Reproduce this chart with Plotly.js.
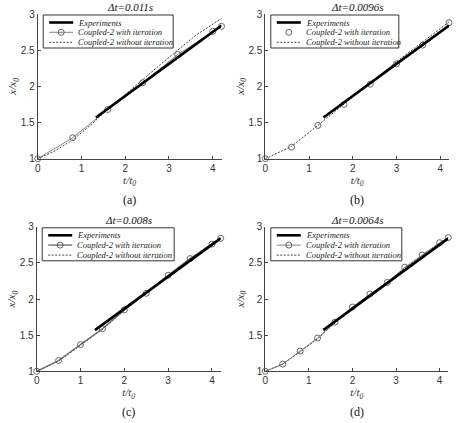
<!DOCTYPE html>
<html>
<head>
<meta charset="utf-8">
<script src="https://cdn.plot.ly/plotly-3.0.1.min.js"></script>
<style>html,body{margin:0;padding:0;background:#fff}#chart{width:456px;height:423px}</style>
</head>
<body>
<div id="chart"></div>
<script>
// Experiments (same in every panel)
const expT = [1.33, 2.0, 3.0, 4.2];
const expY = [1.57, 1.87, 2.31, 2.84];

// (a) dt = 0.011 s
const aWithT = [0, 0.8, 1.6, 2.4, 3.2, 4.0, 4.2];
const aWithY = [1.0, 1.29, 1.68, 2.05, 2.44, 2.76, 2.83];
const aWithoutT = [0, 0.4, 0.8, 1.2, 1.6, 2.0, 2.4, 2.8, 3.2, 3.6, 4.2];
const aWithoutY = [1.0, 1.11, 1.26, 1.46, 1.68, 1.89, 2.10, 2.30, 2.50, 2.70, 2.94];

// (b) dt = 0.0096 s
const bWithT = [0, 0.6, 1.2, 1.8, 2.4, 3.0, 3.6, 4.2];
const bWithY = [1.0, 1.16, 1.46, 1.75, 2.03, 2.31, 2.57, 2.88];
const bWithoutT = [0, 0.6, 1.2, 1.8, 2.4, 3.0, 3.6, 4.2];
const bWithoutY = [1.0, 1.17, 1.46, 1.76, 2.05, 2.34, 2.62, 2.89];

// (c) dt = 0.008 s
const cWithT = [0, 0.5, 1.0, 1.5, 2.0, 2.5, 3.0, 3.5, 4.0, 4.2];
const cWithY = [1.0, 1.15, 1.37, 1.59, 1.85, 2.08, 2.33, 2.56, 2.76, 2.84];
const cWithoutT = [0, 0.5, 1.0, 1.5, 2.0, 2.5, 3.0, 3.5, 4.0, 4.2];
const cWithoutY = [1.0, 1.14, 1.36, 1.58, 1.84, 2.08, 2.33, 2.56, 2.77, 2.85];

// (d) dt = 0.0064 s
const dWithT = [0, 0.4, 0.8, 1.2, 1.6, 2.0, 2.4, 2.8, 3.2, 3.6, 4.0, 4.2];
const dWithY = [1.0, 1.10, 1.28, 1.46, 1.68, 1.89, 2.07, 2.23, 2.44, 2.61, 2.78, 2.85];
const dWithoutT = [0, 0.4, 0.8, 1.2, 1.6, 2.0, 2.4, 2.8, 3.2, 3.6, 4.0, 4.2];
const dWithoutY = [1.0, 1.10, 1.27, 1.45, 1.67, 1.88, 2.06, 2.23, 2.43, 2.60, 2.77, 2.85];

const panelTitles = ['Δt=0.011s', 'Δt=0.0096s', 'Δt=0.008s', 'Δt=0.0064s'];
const panelLetters = ['(a)', '(b)', '(c)', '(d)'];
const seriesNames = ['Experiments', 'Coupled-2 with iteration', 'Coupled-2 without iteration'];
const xTicks = [0, 1, 2, 3, 4];
const yTicks = [1, 1.5, 2, 2.5, 3];

const panels = [
  {wt: aWithT, wy: aWithY, ot: aWithoutT, oy: aWithoutY, withLine: true},
  {wt: bWithT, wy: bWithY, ot: bWithoutT, oy: bWithoutY, withLine: false},
  {wt: cWithT, wy: cWithY, ot: cWithoutT, oy: cWithoutY, withLine: true},
  {wt: dWithT, wy: dWithY, ot: dWithoutT, oy: dWithoutY, withLine: true}
];

const W = 456, H = 423;
const xDom = [[37.7, 221.5], [265.3, 449], [36.7, 220.7], [265.3, 448.3]];
const yDom = [[14, 158.7], [14, 158.7], [226.8, 371.3], [226.8, 371.3]];
const legW = [130, 128, 132, 131];

const serif = '"Liberation Serif", "Times New Roman", serif';
const sans = '"Liberation Sans", Arial, sans-serif';
const dotDash = '2px,1.5px';

const traces = [];
const layout = {
  width: W, height: H,
  margin: {l: 0, r: 0, t: 0, b: 0},
  paper_bgcolor: '#fff', plot_bgcolor: '#fff',
  showlegend: false,
  annotations: [], shapes: [],
  font: {family: sans, size: 10, color: '#333'}
};
const px = v => v / W;
const py = v => 1 - v / H;

panels.forEach((p, i) => {
  const n = i + 1;
  const xa = n === 1 ? 'x' : 'x' + n;
  const ya = n === 1 ? 'y' : 'y' + n;
  const withColor = '#666';
  const withWidth = i === 2 ? 1.3 : 0.8;
  traces.push({
    x: p.ot, y: p.oy, xaxis: xa, yaxis: ya,
    name: seriesNames[2], mode: 'lines',
    line: {color: '#444', width: 1, dash: dotDash}
  });
  traces.push({
    x: p.wt, y: p.wy, xaxis: xa, yaxis: ya,
    name: seriesNames[1], mode: p.withLine ? 'lines+markers' : 'markers',
    line: {color: withColor, width: withWidth},
    marker: {symbol: 'circle-open', size: 6, color: '#555', line: {width: 0.9}},
    cliponaxis: false
  });
  traces.push({
    x: expT, y: expY, xaxis: xa, yaxis: ya,
    name: seriesNames[0], mode: 'lines',
    line: {color: '#000', width: 2.6}
  });

  const xKey = n === 1 ? 'xaxis' : 'xaxis' + n;
  const yKey = n === 1 ? 'yaxis' : 'yaxis' + n;
  layout[xKey] = {
    domain: [px(xDom[i][0]), px(xDom[i][1])],
    range: [0, 4.2], anchor: ya,
    tickvals: xTicks, ticktext: xTicks.map(String),
    ticks: 'inside', ticklen: 3, tickcolor: '#444',
    showline: true, linecolor: '#444', linewidth: 1,
    showgrid: false, zeroline: false,
    tickfont: {family: sans, size: 10, color: '#333'},
    title: {text: '<i>t/t<sub>0</sub></i>', font: {family: serif, size: 11, color: '#333'}, standoff: 3}
  };
  layout[yKey] = {
    domain: [py(yDom[i][1]), py(yDom[i][0])],
    range: [1, 3], anchor: xa,
    tickvals: yTicks, ticktext: yTicks.map(String),
    ticks: 'inside', ticklen: 3, tickcolor: '#444',
    showline: true, linecolor: '#444', linewidth: 1,
    showgrid: false, zeroline: false,
    tickfont: {family: sans, size: 10, color: '#333'},
    title: {text: '<i>x/x<sub>0</sub></i>', font: {family: serif, size: 11, color: '#333'}, standoff: 1}
  };

  // legend box
  const L = xDom[i][0] + 5.5, T = yDom[i][0] + 1;
  layout.shapes.push({type: 'rect', xref: 'paper', yref: 'paper',
    x0: px(L), x1: px(L + legW[i]), y0: py(T), y1: py(T + 33),
    line: {color: '#333', width: 1}, fillcolor: '#fff', layer: 'above'});
  const rows = [T + 7.5, T + 17.3, T + 27.3];
  const sx0 = L + 6, sx1 = L + 30;
  layout.shapes.push({type: 'line', xref: 'paper', yref: 'paper',
    x0: px(sx0), x1: px(sx1), y0: py(rows[0]), y1: py(rows[0]),
    line: {color: '#000', width: 2.6}, layer: 'above'});
  if (p.withLine) {
    layout.shapes.push({type: 'line', xref: 'paper', yref: 'paper',
      x0: px(sx0), x1: px(sx1), y0: py(rows[1]), y1: py(rows[1]),
      line: {color: withColor, width: withWidth}, layer: 'above'});
  }
  const mx = (sx0 + sx1) / 2;
  layout.shapes.push({type: 'circle', xref: 'paper', yref: 'paper',
    x0: px(mx - 3), x1: px(mx + 3), y0: py(rows[1] - 3), y1: py(rows[1] + 3),
    line: {color: '#555', width: 0.9}, fillcolor: 'rgba(0,0,0,0)', layer: 'above'});
  layout.shapes.push({type: 'line', xref: 'paper', yref: 'paper',
    x0: px(sx0), x1: px(sx1), y0: py(rows[2]), y1: py(rows[2]),
    line: {color: '#444', width: 1, dash: dotDash}, layer: 'above'});
  seriesNames.forEach((name, k) => {
    layout.annotations.push({
      text: '<i>' + name + '</i>', xref: 'paper', yref: 'paper',
      x: px(L + 33), y: py(rows[k]), xanchor: 'left', yanchor: 'middle',
      showarrow: false, font: {family: serif, size: 8.5, color: '#222'}
    });
  });

  const cx = px((xDom[i][0] + xDom[i][1]) / 2);
  layout.annotations.push({
    text: '<i>' + panelTitles[i] + '</i>', xref: 'paper', yref: 'paper',
    x: cx, y: py(yDom[i][0] - 7), xanchor: 'center', yanchor: 'middle',
    showarrow: false, font: {family: serif, size: 11, color: '#111'}
  });
  layout.annotations.push({
    text: panelLetters[i], xref: 'paper', yref: 'paper',
    x: cx, y: py(yDom[i][1] + 41), xanchor: 'center', yanchor: 'middle',
    showarrow: false, font: {family: serif, size: 12, color: '#111'}
  });
});

Plotly.newPlot('chart', traces, layout, {staticPlot: true, displayModeBar: false});
</script>
</body>
</html>
